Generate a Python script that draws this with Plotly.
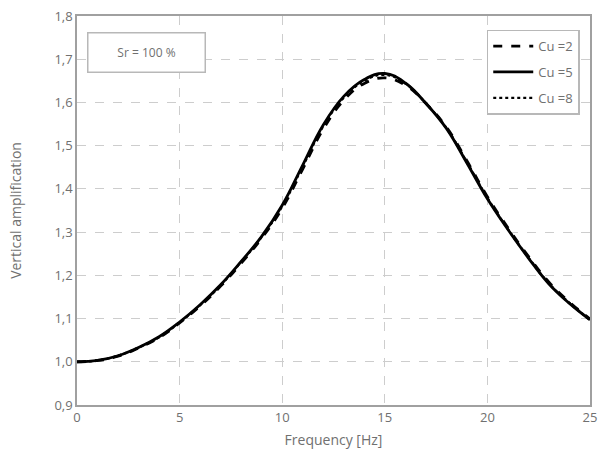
import plotly.graph_objects as go

freq = list(range(0, 26))
cu2 = [1.000, 1.003, 1.013, 1.032, 1.056, 1.090, 1.129, 1.175, 1.228, 1.286, 1.355,
       1.446, 1.538, 1.605, 1.644, 1.657, 1.640, 1.598, 1.543, 1.465, 1.382,
       1.310, 1.244, 1.184, 1.138, 1.099]
cu5 = [1.000, 1.003, 1.014, 1.033, 1.058, 1.092, 1.132, 1.178, 1.232, 1.290, 1.362,
       1.455, 1.548, 1.614, 1.653, 1.667, 1.645, 1.598, 1.540, 1.460, 1.377,
       1.306, 1.240, 1.180, 1.135, 1.097]
cu8 = [1.000, 1.003, 1.014, 1.033, 1.057, 1.091, 1.131, 1.177, 1.231, 1.289, 1.360,
       1.452, 1.545, 1.611, 1.650, 1.664, 1.644, 1.598, 1.541, 1.462, 1.379,
       1.307, 1.241, 1.181, 1.136, 1.097]
series_names = ["Cu =2", "Cu =5", "Cu =8"]
x_ticks = [0, 5, 10, 15, 20, 25]
y_ticks = [0.9, 1.0, 1.1, 1.2, 1.3, 1.4, 1.5, 1.6, 1.7, 1.8]
y_ticktext = ["0,9", "1,0", "1,1", "1,2", "1,3", "1,4", "1,5", "1,6", "1,7", "1,8"]

TXT = "#707070"

fig = go.Figure()
for name, ys, dash, w in zip(series_names, [cu2, cu5, cu8],
                             ["dash", "solid", "dot"], [2.8, 2.8, 2.4]):
    fig.add_trace(go.Scatter(x=freq, y=ys, mode="lines", name=name, legendgroup=name,
                             line=dict(color="black", width=w, dash=dash,
                                       shape="spline", smoothing=1.2)))

axis_style = dict(showgrid=True, gridcolor="#cdcdcd", griddash="dash", gridwidth=1,
                  showline=True, linecolor="#a0a0a0", linewidth=1.5, mirror=True,
                  ticks="", zeroline=False, automargin=False,
                  ticklabeloverflow="allow",
                  tickfont=dict(size=13, color=TXT),
                  title_font=dict(size=14, color=TXT))

fig.update_layout(
    width=599, height=460,
    margin=dict(l=77, r=9, t=16, b=55),
    plot_bgcolor="white", paper_bgcolor="white",
    font=dict(family="Open Sans", color=TXT),
    xaxis=dict(range=[0, 25], tickvals=x_ticks,
               title=dict(text="Frequency [Hz]", standoff=10), **axis_style),
    yaxis=dict(range=[0.9, 1.8], tickvals=y_ticks, ticktext=y_ticktext,
               title=dict(text="Vertical amplification", standoff=30), **axis_style),
    legend=dict(x=0.98, y=0.965, xanchor="right", yanchor="top",
                bgcolor="white", bordercolor="#b8b8b8", borderwidth=1.5,
                font=dict(size=13, color=TXT), itemwidth=40,
                tracegroupgap=6),
    annotations=[dict(text="Sr = 100 %", xref="paper", yref="paper", x=0.136, y=0.907,
                      xanchor="center", yanchor="middle", showarrow=False,
                      font=dict(size=12, color=TXT), width=116, height=38,
                      bordercolor="#b8b8b8", borderwidth=1.5, borderpad=0, bgcolor="white")],
)

fig.write_html("out.html")
